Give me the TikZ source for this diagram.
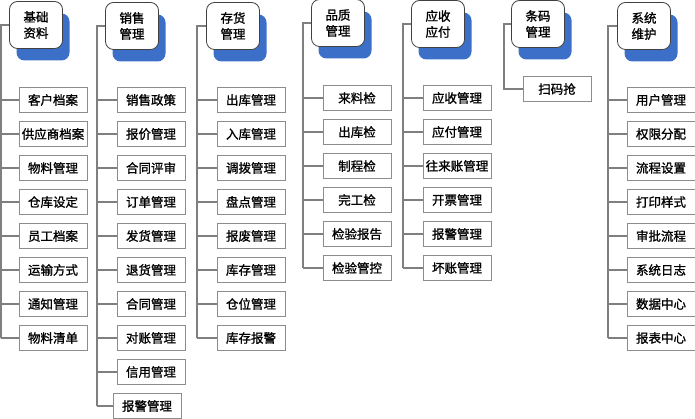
\documentclass[tikz,border=0pt]{standalone}
\usepackage{fontspec}
\setmainfont{Noto Sans CJK SC}[AutoFakeBold=1.2]
\usetikzlibrary{shadows}
\definecolor{linegray}{HTML}{7F7F7F}
\definecolor{boxgray}{HTML}{8C8C8C}
\definecolor{shadowblue}{HTML}{3C70C8}
\tikzset{
  topbox/.style={
    rectangle, rounded corners=8pt,
    draw=black!75, fill=white, line width=0.8pt,
    minimum width=53pt, minimum height=47pt, inner sep=0pt,
    align=center, font=\fontsize{12.5}{16}\selectfont\bfseries,
    drop shadow={shadow xshift=7pt, shadow yshift=-12pt, fill=shadowblue, opacity=1}
  },
  itembox/.style={
    rectangle, draw=boxgray, fill=white, line width=1pt,
    minimum width=68pt, minimum height=25pt, inner sep=0pt,
    font=\fontsize{12.5}{14}\selectfont\bfseries
  },
  link/.style={draw=linegray, line width=1.3pt},
}

\begin{document}
\begin{tikzpicture}[x=1pt, y=-1pt]
  \useasboundingbox (0,0) rectangle (695,419);

  % headers
  \node[topbox] (h1) at (36,25) {基础\\资料};
  \node[topbox] (h2) at (132,26) {销售\\管理};
  \node[topbox] (h3) at (233,26) {存货\\管理};
  \node[topbox] (h4) at (338,23) {品质\\管理};
  \node[topbox] (h5) at (438,24) {应收\\应付};
  \node[topbox] (h6) at (538,24) {条码\\管理};
  \node[topbox] (h7) at (644,26) {系统\\维护};

  % trunk lines
  \coordinate (v1) at (1,0);
  \coordinate (v2) at (97,0);
  \coordinate (v3) at (197,0);
  \coordinate (v4) at (303,0);
  \coordinate (v5) at (403,0);
  \coordinate (v6) at (504,0);
  \coordinate (v7) at (608,0);

  % items
  \foreach \txt [count=\i] in {客户档案,供应商档案,物料管理,仓库设定,员工档案,运输方式,通知管理,物料清单}
    \node[itembox] (a\i) at (53,{66+34*\i}) {\txt};
  \foreach \txt [count=\i] in {销售政策,报价管理,合同评审,订单管理,发货管理,退货管理,合同管理,对账管理,信用管理}
    \node[itembox] (b\i) at (151,{66+34*\i}) {\txt};
  \node[itembox] (b10) at (147,406) {报警管理};
  \foreach \txt [count=\i] in {出库管理,入库管理,调拨管理,盘点管理,报废管理,库存管理,仓位管理,库存报警}
    \node[itembox] (c\i) at (251,{66+34*\i}) {\txt};
  \foreach \txt [count=\i] in {来料检,出库检,制程检,完工检,检验报告,检验管控}
    \node[itembox] (d\i) at (357,{64+34*\i}) {\txt};
  \foreach \txt [count=\i] in {应收管理,应付管理,往来账管理,开票管理,报警管理,坏账管理}
    \node[itembox] (e\i) at (457,{64+34*\i}) {\txt};
  \node[itembox] (f1) at (557,89) {扫码抢};
  \foreach \txt [count=\i] in {用户管理,权限分配,流程设置,打印样式,审批流程,系统日志,数据中心,报表中心}
    \node[itembox] (g\i) at (661,{66+34*\i}) {\txt};

  % connectors
  \draw[link] (h1.west) -| (v1 |- a8.west);
  \foreach \i in {1,...,8}
    \draw[link] (v1 |- a\i.west) -- (a\i.west);
  \draw[link] (h2.west) -| (v2 |- b10.west);
  \foreach \i in {1,...,10}
    \draw[link] (v2 |- b\i.west) -- (b\i.west);
  \draw[link] (h3.west) -| (v3 |- c8.west);
  \foreach \i in {1,...,8}
    \draw[link] (v3 |- c\i.west) -- (c\i.west);
  \draw[link] (h4.west) -| (v4 |- d6.west);
  \foreach \i in {1,...,6}
    \draw[link] (v4 |- d\i.west) -- (d\i.west);
  \draw[link] (h5.west) -| (v5 |- e6.west);
  \foreach \i in {1,...,6}
    \draw[link] (v5 |- e\i.west) -- (e\i.west);
  \draw[link] (h6.west) -| (v6 |- f1.west) -- (f1.west);
  \draw[link] (h7.west) -| (v7 |- g8.west);
  \foreach \i in {1,...,8}
    \draw[link] (v7 |- g\i.west) -- (g\i.west);
\end{tikzpicture}
\end{document}
